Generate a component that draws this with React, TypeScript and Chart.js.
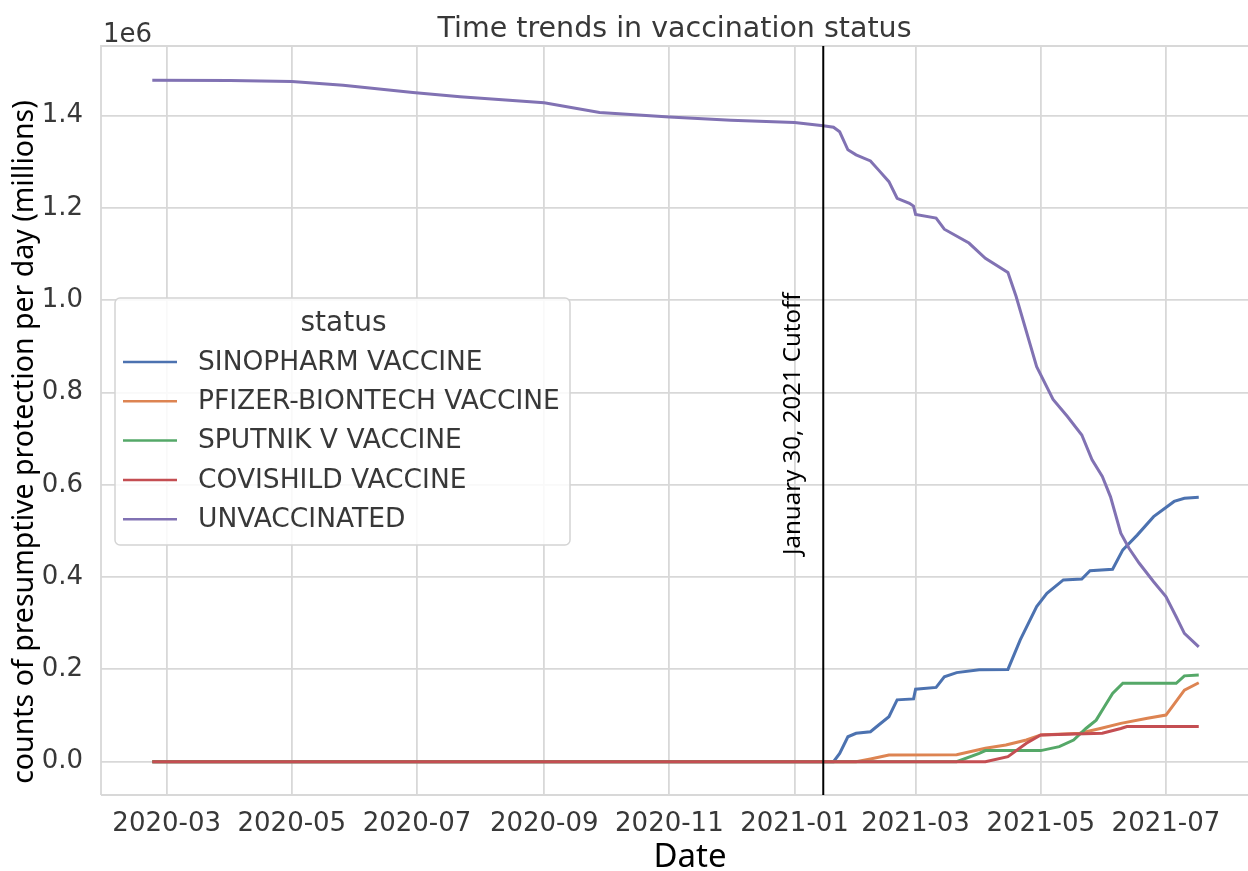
import React, { useEffect, useRef } from 'react';
import { Chart, registerables } from 'chart.js';

Chart.register(...registerables);

// ---------- data ----------
const chartTitle = 'Time trends in vaccination status';
const xAxisTitle = 'Date';
const yAxisTitle = 'counts of presumptive protection per day (millions)';
const offsetLabel = '1e6';
const legendTitle = 'status';
const cutoffLabel = 'January 30, 2021 Cutoff';
const cutoffDate = '2021-01-15';

const seriesNames = [
  'SINOPHARM VACCINE',
  'PFIZER-BIONTECH VACCINE',
  'SPUTNIK V VACCINE',
  'COVISHILD VACCINE',
  'UNVACCINATED',
];
const seriesColors = ['#4C72B0', '#DD8452', '#55A868', '#C44E52', '#8172B3'];

const xTickLabels = ['2020-03', '2020-05', '2020-07', '2020-09', '2020-11', '2021-01', '2021-03', '2021-05', '2021-07'];
const yTickValues = [0, 200000, 400000, 600000, 800000, 1000000, 1200000, 1400000];
const xRange = ['2020-01-29', '2021-08-10'];
const yRange = [-72200, 1551000];

const sinopharmDates = ['2020-02-23', '2021-01-20', '2021-01-23', '2021-01-27', '2021-01-31', '2021-02-07', '2021-02-11', '2021-02-16', '2021-02-20', '2021-02-28', '2021-03-01', '2021-03-11', '2021-03-15', '2021-03-21', '2021-04-01', '2021-04-15', '2021-04-21', '2021-04-29', '2021-05-04', '2021-05-12', '2021-05-21', '2021-05-25', '2021-06-05', '2021-06-10', '2021-06-17', '2021-06-25', '2021-07-05', '2021-07-10', '2021-07-17'];
const sinopharmValues = [0, 0, 18000, 54000, 61500, 65000, 79500, 97500, 134000, 136000, 157000, 161000, 184000, 193000, 199000, 200000, 264000, 336000, 365000, 394000, 396000, 414000, 417000, 459000, 491000, 531000, 564000, 571000, 573000];

const pfizerDates = ['2020-02-23', '2021-01-31', '2021-02-07', '2021-02-16', '2021-03-21', '2021-04-04', '2021-04-14', '2021-04-24', '2021-05-01', '2021-05-20', '2021-05-30', '2021-06-09', '2021-06-22', '2021-07-01', '2021-07-04', '2021-07-10', '2021-07-17'];
const pfizerValues = [0, 0, 6000, 14500, 15000, 29000, 36000, 47000, 58000, 61500, 72000, 83000, 94000, 101000, 119000, 155000, 171000];

const sputnikDates = ['2020-02-23', '2021-03-21', '2021-04-01', '2021-04-04', '2021-05-01', '2021-05-10', '2021-05-17', '2021-05-23', '2021-05-28', '2021-06-01', '2021-06-05', '2021-06-10', '2021-07-06', '2021-07-10', '2021-07-17'];
const sputnikValues = [0, 0, 18000, 24000, 24000, 32500, 47000, 72000, 90000, 119000, 148000, 170000, 170000, 186000, 188000];

const covishieldDates = ['2020-02-23', '2021-04-04', '2021-04-15', '2021-04-24', '2021-05-01', '2021-05-31', '2021-06-09', '2021-06-12', '2021-07-17'];
const covishieldValues = [0, 0, 11000, 40000, 58000, 61500, 72000, 76000, 76000];

const unvaccinatedDates = ['2020-02-23', '2020-04-01', '2020-05-01', '2020-05-26', '2020-06-29', '2020-07-22', '2020-09-01', '2020-09-28', '2020-11-01', '2020-12-01', '2021-01-01', '2021-01-15', '2021-01-20', '2021-01-23', '2021-01-27', '2021-01-31', '2021-02-07', '2021-02-11', '2021-02-16', '2021-02-20', '2021-02-26', '2021-02-28', '2021-03-01', '2021-03-11', '2021-03-15', '2021-03-27', '2021-04-04', '2021-04-15', '2021-04-19', '2021-04-29', '2021-05-07', '2021-05-14', '2021-05-21', '2021-05-26', '2021-05-31', '2021-06-04', '2021-06-09', '2021-06-13', '2021-06-18', '2021-06-25', '2021-07-01', '2021-07-06', '2021-07-10', '2021-07-17'];
const unvaccinatedValues = [1477000, 1476000, 1474000, 1466000, 1450000, 1441000, 1428000, 1407000, 1397000, 1390000, 1385000, 1378000, 1375000, 1365000, 1326000, 1315000, 1302000, 1282000, 1257000, 1221000, 1210000, 1204000, 1186000, 1178000, 1154000, 1124000, 1091000, 1060000, 1008000, 856000, 785000, 748000, 708000, 654000, 618000, 574000, 495000, 462500, 430000, 390000, 358000, 314000, 278000, 249000];

const seriesDates = [sinopharmDates, pfizerDates, sputnikDates, covishieldDates, unvaccinatedDates];
const seriesValues = [sinopharmValues, pfizerValues, sputnikValues, covishieldValues, unvaccinatedValues];

// ---------- helpers ----------
const DAY0 = Date.UTC(2020, 2, 1);
const toDay = (s: string) => {
  const [y, m, d] = s.split('-').map(Number);
  return (Date.UTC(y, m - 1, d || 1) - DAY0) / 86400000;
};

const TICK_FONT = '"DejaVu Sans", sans-serif';
const EDIT_FONT = '"Noto Sans", "Open Sans", sans-serif';
const TEXT_COLOR = '#383838';
const GRID_COLOR = '#d8d8d8';

const decorPlugin = {
  id: 'decor',
  beforeDatasetsDraw(chart: any) {
    const { ctx, chartArea } = chart;
    ctx.save();
    ctx.strokeStyle = GRID_COLOR;
    ctx.lineWidth = 1.8;
    ctx.beginPath();
    ctx.moveTo(chartArea.left, chartArea.bottom);
    ctx.lineTo(chartArea.left, chartArea.top);
    ctx.lineTo(chartArea.right, chartArea.top);
    ctx.moveTo(chartArea.left, chartArea.bottom);
    ctx.lineTo(chartArea.right, chartArea.bottom);
    ctx.stroke();
    ctx.restore();
  },
  afterDraw(chart: any) {
    const { ctx, chartArea, scales } = chart;
    ctx.save();

    // title
    ctx.fillStyle = TEXT_COLOR;
    ctx.font = `28.5px ${TICK_FONT}`;
    ctx.textAlign = 'center';
    ctx.textBaseline = 'alphabetic';
    ctx.fillText(chartTitle, (chartArea.left + chartArea.right) / 2, chartArea.top - 9);

    // offset label
    ctx.font = `26px ${TICK_FONT}`;
    ctx.textAlign = 'left';
    ctx.fillText(offsetLabel, chartArea.left + 2, chartArea.top - 4);

    // cutoff line
    const cx = scales.x.getPixelForValue(toDay(cutoffDate));
    ctx.strokeStyle = '#000';
    ctx.lineWidth = 2;
    ctx.beginPath();
    ctx.moveTo(cx, chartArea.top);
    ctx.lineTo(cx, chartArea.bottom);
    ctx.stroke();

    // cutoff label
    ctx.save();
    ctx.translate(cx - 23, 555);
    ctx.rotate(-Math.PI / 2);
    ctx.fillStyle = '#000';
    ctx.font = `24px ${EDIT_FONT}`;
    ctx.textAlign = 'left';
    ctx.textBaseline = 'alphabetic';
    ctx.fillText(cutoffLabel, 0, 0);
    ctx.restore();

    // y axis title
    ctx.save();
    ctx.translate(33, 442);
    ctx.rotate(-Math.PI / 2);
    ctx.fillStyle = '#000';
    ctx.font = `28.5px ${EDIT_FONT}`;
    ctx.textAlign = 'center';
    ctx.textBaseline = 'alphabetic';
    ctx.fillText(yAxisTitle, 0, 0);
    ctx.restore();

    // x axis title
    ctx.fillStyle = '#000';
    ctx.font = `33px ${EDIT_FONT}`;
    ctx.textAlign = 'center';
    ctx.textBaseline = 'alphabetic';
    ctx.fillText(xAxisTitle, 690, 867);

    // legend
    const bx = chartArea.left + 14;
    const by = 298;
    const bw = 455;
    const bh = 247;
    ctx.beginPath();
    if ((ctx as any).roundRect) (ctx as any).roundRect(bx, by, bw, bh, 5);
    else ctx.rect(bx, by, bw, bh);
    ctx.fillStyle = 'rgba(255,255,255,0.85)';
    ctx.fill();
    ctx.strokeStyle = '#d4d4d4';
    ctx.lineWidth = 1.5;
    ctx.stroke();

    ctx.fillStyle = TEXT_COLOR;
    ctx.font = `28px ${TICK_FONT}`;
    ctx.textAlign = 'center';
    ctx.textBaseline = 'middle';
    ctx.fillText(legendTitle, bx + bw / 2 + 1, by + 26);

    ctx.font = `26.5px ${TICK_FONT}`;
    ctx.textAlign = 'left';
    seriesNames.forEach((name, i) => {
      const y = by + 64 + i * 39.3;
      ctx.strokeStyle = seriesColors[i];
      ctx.lineWidth = 2.5;
      ctx.beginPath();
      ctx.moveTo(bx + 8, y);
      ctx.lineTo(bx + 62, y);
      ctx.stroke();
      ctx.fillStyle = TEXT_COLOR;
      ctx.fillText(name, bx + 83, y + 1);
    });

    ctx.restore();
  },
};

export default function App() {
  const ref = useRef<HTMLCanvasElement | null>(null);

  useEffect(() => {
    if (!ref.current) return;
    const datasets = seriesNames.map((name, i) => ({
      label: name,
      data: seriesDates[i].map((d, j) => ({ x: toDay(d), y: seriesValues[i][j] })),
      borderColor: seriesColors[i],
      backgroundColor: seriesColors[i],
      borderWidth: 3,
      pointRadius: 0,
      tension: 0,
      fill: false,
      order: seriesNames.length - 1 - i,
    }));

    const chart = new Chart(ref.current, {
      type: 'line',
      data: { datasets },
      options: {
        animation: false,
        responsive: false,
        maintainAspectRatio: false,
        layout: { padding: { top: 46, left: 0, right: 0, bottom: 0 } },
        plugins: {
          legend: { display: false },
          title: { display: false },
          tooltip: { enabled: false },
        },
        scales: {
          x: {
            type: 'linear',
            min: toDay(xRange[0]),
            max: toDay(xRange[1]),
            afterBuildTicks: (axis: any) => {
              axis.ticks = xTickLabels.map((l) => ({ value: toDay(l + '-01') }));
            },
            afterFit: (axis: any) => {
              axis.height = 76;
            },
            ticks: {
              autoSkip: false,
              maxRotation: 0,
              padding: 14,
              color: TEXT_COLOR,
              font: { family: TICK_FONT, size: 26 },
              callback: (_v: any, idx: number) => xTickLabels[idx],
            },
            grid: { color: GRID_COLOR, lineWidth: 1.8, drawTicks: false },
            border: { display: false },
          },
          y: {
            type: 'linear',
            min: yRange[0],
            max: yRange[1],
            afterBuildTicks: (axis: any) => {
              axis.ticks = yTickValues.map((v) => ({ value: v }));
            },
            afterFit: (axis: any) => {
              axis.width = 101;
            },
            ticks: {
              padding: 18,
              color: TEXT_COLOR,
              font: { family: TICK_FONT, size: 26 },
              callback: (v: any) => (Number(v) / 1e6).toFixed(1),
            },
            grid: { color: GRID_COLOR, lineWidth: 1.8, drawTicks: false },
            border: { display: false },
          },
        },
      },
      plugins: [decorPlugin],
    } as any);

    return () => chart.destroy();
  }, []);

  return (
    <div style={{ position: 'absolute', left: 0, top: 0, width: 1248, height: 871, background: '#fff' }}>
      <canvas ref={ref} width={1248} height={871} style={{ display: 'block' }} />
    </div>
  );
}
